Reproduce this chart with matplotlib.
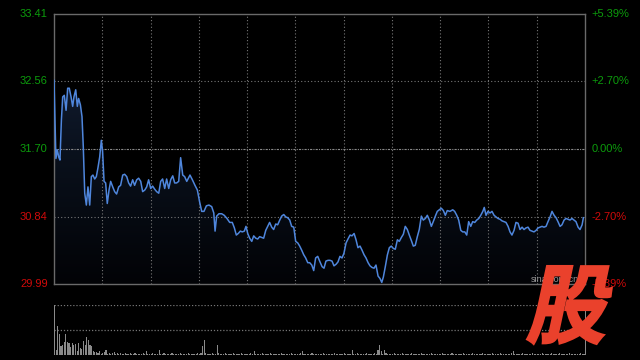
import matplotlib
matplotlib.use("Agg")
import matplotlib.pyplot as plt
import numpy as np
from matplotlib.colors import LinearSegmentedColormap
from matplotlib.textpath import TextPath
from matplotlib.patches import PathPatch
from matplotlib.font_manager import FontProperties
from matplotlib.transforms import Affine2D, IdentityTransform

plt.rcParams['font.family'] = ['Liberation Sans', 'DejaVu Sans']

# 分时数据（分钟, 价格）
minutes = [0, 1.2, 2.1, 2.9, 3.7, 4.6, 5.4, 6.4, 7.5, 8.5, 9.5, 10.6, 11.6, 12.4, 13.5, 14.5, 15.3, 16.4,
           17.4, 18.2, 19.1, 20.1, 21.1, 22.2, 23.2, 24.2, 25.3, 26.3, 27.3, 28.4, 29.4, 30.2, 31.1, 32.1,
           33.1, 34.2, 35.2, 36.5, 37.7, 38.9, 40.2, 41.4, 42.7, 43.9, 45.2, 46.4, 47.6, 48.9, 50.1, 51.4,
           52.6, 53.9, 55.1, 56.4, 57.6, 58.8, 60.1, 61.3, 62.6, 63.8, 65.1, 66.3, 67.5, 68.8, 70.0, 71.3,
           72.5, 73.8, 75.0, 76.2, 77.5, 78.7, 80.0, 81.2, 82.5,
           84.5, 86.0, 87.6, 89.1, 90.5, 91.8, 93.2, 94.7, 96.3, 98.0, 99.3, 100.1, 101.1, 102.5, 104.2,
           105.8, 107.5, 109.2, 110.8, 112.1, 113.3, 114.5, 115.8, 117.0, 118.3, 119.3, 120.4, 121.6,
           122.9, 124.1, 125.4, 126.6, 127.8, 129.1, 130.3, 131.6, 132.8, 134.0, 135.3, 136.5, 137.8,
           139.0, 140.3, 141.5, 142.8, 144.0, 145.2, 146.5, 147.7, 149.0, 150.2, 151.5, 152.7, 153.9,
           155.2, 156.4, 157.7, 158.9, 160.2, 161.4, 162.6, 163.9, 165.1,
           166.6, 167.8, 169.0, 170.3, 171.5, 172.8, 174.0, 175.3, 176.5, 177.7, 179.0, 180.2, 181.5,
           182.7, 184.0, 185.2, 186.5, 187.7, 188.9, 190.2, 191.4, 192.7, 193.9, 195.2, 196.4, 197.6,
           198.9, 200.1, 201.4, 202.6, 203.7, 204.7, 205.9, 207.2, 208.4, 209.6, 210.9, 212.1, 213.4,
           214.6, 215.9, 217.1, 218.3, 219.6, 220.8, 222.1, 223.3, 224.5, 225.8, 227.0, 228.3, 229.5,
           230.8, 232.0, 233.3, 234.5, 235.7, 237.0, 238.2, 239.5, 240.7, 242.0, 243.2, 244.4,
           246.1, 247.8, 249.0, 250.3, 251.5, 252.8, 254.0, 255.3, 256.5, 257.7, 259.0, 260.2, 261.5,
           262.7, 264.0, 265.2, 266.5, 267.4, 268.5, 269.7, 271.0, 272.2, 273.5, 274.7, 275.9, 277.2,
           278.4, 279.7, 280.9, 282.2, 283.4, 284.6, 285.9, 287.1, 288.4, 289.6, 290.9, 292.1, 293.3,
           294.6, 295.8, 297.1, 298.3, 299.6, 300.8, 302.0, 303.3, 304.5, 305.8, 307.0, 308.3, 309.5,
           310.8, 312.0, 313.2, 314.5, 315.7, 317.0, 318.2, 319.5, 320.7, 321.9, 323.2, 324.4, 325.7,
           326.9, 328.2, 329.0]
price = [32.57, 31.58, 31.69, 31.60, 31.56, 32.07, 32.36, 32.38, 32.19, 32.47, 32.47, 32.36, 32.24, 32.36,
         32.45, 32.24, 32.34, 32.26, 32.11, 31.73, 31.14, 30.99, 31.22, 30.99, 31.35, 31.37, 31.32, 31.35,
         31.46, 31.60, 31.81, 31.67, 31.29, 31.27, 31.01, 31.18, 31.29, 31.22, 31.16, 31.13, 31.22, 31.24,
         31.37, 31.38, 31.35, 31.27, 31.23, 31.31, 31.24, 31.31, 31.33, 31.29, 31.16, 31.18, 31.22, 31.31,
         31.20, 31.23, 31.19, 31.16, 31.14, 31.29, 31.32, 31.20, 31.32, 31.20, 31.31, 31.36, 31.27, 31.27,
         31.29, 31.59, 31.37, 31.35, 31.29,
         31.37, 31.31, 31.24, 31.18, 31.03, 30.91, 30.91, 30.98, 30.99, 30.97, 30.89, 30.66, 30.85, 30.88,
         30.88, 30.86, 30.82, 30.77, 30.77, 30.70, 30.61, 30.63, 30.66, 30.65, 30.66, 30.72, 30.63, 30.57,
         30.53, 30.60, 30.57, 30.56, 30.59, 30.58, 30.57, 30.67, 30.72, 30.77, 30.71, 30.68, 30.75, 30.74,
         30.80, 30.85, 30.87, 30.84, 30.83, 30.80, 30.72, 30.71, 30.53, 30.51, 30.47, 30.42, 30.36, 30.32,
         30.26, 30.26, 30.23, 30.16, 30.32, 30.34, 30.28,
         30.21, 30.19, 30.28, 30.29, 30.29, 30.28, 30.22, 30.24, 30.27, 30.34, 30.32, 30.38, 30.51, 30.56,
         30.61, 30.60, 30.63, 30.55, 30.45, 30.47, 30.42, 30.36, 30.32, 30.26, 30.22, 30.20, 30.19, 30.23,
         30.09, 30.06, 30.01, 30.08, 30.21, 30.36, 30.45, 30.47, 30.44, 30.43, 30.55, 30.53, 30.58, 30.62,
         30.72, 30.68, 30.61, 30.54, 30.47, 30.48, 30.59, 30.68, 30.85, 30.80, 30.82, 30.86, 30.80, 30.72,
         30.78, 30.85, 30.91, 30.93, 30.95, 30.92, 30.86, 30.92,
         30.91, 30.93, 30.91, 30.86, 30.80, 30.67, 30.65, 30.65, 30.61, 30.78, 30.72, 30.78, 30.77, 30.80,
         30.82, 30.86, 30.91, 30.96, 30.86, 30.91, 30.89, 30.91, 30.86, 30.84, 30.82, 30.81, 30.79, 30.78,
         30.77, 30.72, 30.65, 30.61, 30.67, 30.77, 30.76, 30.68, 30.71, 30.68, 30.70, 30.71, 30.67, 30.66,
         30.65, 30.67, 30.70, 30.71, 30.72, 30.71, 30.72, 30.78, 30.84, 30.91, 30.86, 30.83, 30.78, 30.72,
         30.74, 30.80, 30.82, 30.81, 30.80, 30.82, 30.80, 30.78, 30.71, 30.68, 30.74, 30.83]

# 每分钟成交量（相对值）
volume = [100, 10, 58, 42, 18, 20, 26, 42, 26, 24, 16, 24, 20, 22, 8, 24, 14, 12, 28, 20, 36, 30, 20, 18, 8, 6, 6, 4, 8, 3,
          4, 6, 10, 3, 4, 3, 4, 6, 3, 4, 3, 4, 2, 3, 4, 3, 2, 4, 3, 3, 4, 3, 2, 3, 3, 4, 2, 8, 3, 3,
          3, 4, 2, 3, 3, 10, 2, 3, 4, 3, 2, 3, 3, 4, 2, 3, 3, 2, 4, 3, 3, 2, 3, 4, 3, 2, 3, 3, 2, 4,
          3, 4, 18, 30, 4, 3, 3, 2, 4, 3, 3, 20, 4, 3, 2, 3, 4, 3, 3, 2, 3, 4, 2, 3, 3, 2, 4, 3, 3, 2,
          3, 2, 4, 3, 8, 3, 2, 3, 3, 4, 2, 3, 3, 2, 4, 3, 2, 3, 3, 2, 3, 4, 2, 3, 3, 2, 3, 4, 2, 3,
          3, 2, 3, 4, 8, 3, 2, 3, 3, 2, 4, 3, 2, 3, 3, 2, 3, 4, 2, 3, 3, 2, 3, 3, 4, 2, 3, 3, 2, 3,
          4, 3, 2, 3, 3, 10, 2, 3, 4, 3, 2, 3, 3, 2, 4, 3, 3, 2, 3, 4, 3, 10, 20, 8, 3, 10, 4, 3, 3, 2,
          3, 4, 2, 3, 3, 2, 4, 3, 3, 2, 3, 3, 4, 2, 3, 3, 2, 3, 4, 3, 2, 3, 3, 2, 4, 3, 2, 3, 3, 2,
          3, 4, 2, 3, 3, 2, 3, 4, 2, 3, 3, 2, 3, 3, 4, 2, 3, 3, 2, 3, 4, 3, 2, 3, 3, 2, 4, 3, 3, 2,
          3, 2, 4, 3, 3, 2, 3, 4, 2, 3, 3, 2, 3, 3, 4, 8, 3, 2, 3, 3, 2, 4, 3, 3, 2, 3, 3, 4, 2, 3,
          3, 2, 3, 4, 3, 2, 3, 3, 2, 4, 3, 3, 2, 3, 4, 3, 2, 3, 3, 2, 4, 3, 3, 2, 3, 3, 2, 4, 3, 3, 90]

prev_close = 31.70
left_labels = ['33.41', '32.56', '31.70', '30.84', '29.99']
right_labels = ['+5.39%', '+2.70%', '0.00%', '-2.70%', '-5.39%']
label_levels = [33.41, 32.56, 31.70, 30.84, 29.99]

W, H = 640, 360
fig = plt.figure(figsize=(6.4, 3.6), dpi=100, facecolor='black')
ax = fig.add_axes([54 / W, (H - 284) / H, 531 / W, 270 / H], facecolor='black')
axv = fig.add_axes([54 / W, (H - 355) / H, 531 / W, 50 / H], facecolor='black')

green = '#0c9c0c'
red = '#d00a0a'
gridc = '#777777'

# 价格面板
ax.set_xlim(0, 330)
ax.set_ylim(29.99, 33.41)
for v in range(30, 330, 30):
    ax.axvline(v, color=gridc, lw=0.8, ls=(0, (1, 2)), zorder=1)
for lv in [32.56, 30.84]:
    ax.axhline(lv, color=gridc, lw=0.8, ls=(0, (1, 2)), zorder=1)
ax.axhline(prev_close, color='#8a8a8a', lw=0.8, ls=(0, (2, 1, 1, 1)), zorder=1)

poly = ax.fill_between(minutes, price, 29.99, color='none', lw=0)
cmap = LinearSegmentedColormap.from_list('g', ['#020306', '#0a111d', '#17253f'])
grad = np.linspace(0, 1, 256).reshape(-1, 1)
img = ax.imshow(grad, extent=[0, 330, 29.99, 33.41], aspect='auto', cmap=cmap, origin='lower', zorder=0.5)
img.set_clip_path(poly.get_paths()[0], transform=ax.transData)

ax.plot(minutes, price, color='#4f86dc', lw=1.1, zorder=3)

ax.set_xticks([])
ax.set_yticks([])
for s in ax.spines.values():
    s.set_color('#6a6a6a')
    s.set_linewidth(1.0)

for lab, rl, lv in zip(left_labels, right_labels, label_levels):
    c = green if lv >= prev_close else red
    ax.text(-4, lv, lab, color=c, fontsize=8, ha='right', va='center', transform=ax.transData, clip_on=False)
    ax.text(334, lv, rl, color=c, fontsize=8, ha='left', va='center', transform=ax.transData, clip_on=False)

# 成交量面板
axv.set_xlim(0, 330)
axv.set_ylim(0, 100)
bars = axv.bar(np.arange(len(volume)), volume, width=0.7, color='#8a8a8a', lw=0, zorder=2, align='edge')
for b in bars:
    b.set_clip_on(False)
for lv in [100, 50, 1]:
    axv.axhline(lv, color=gridc, lw=0.9, ls=(0, (1, 1.5)), zorder=1)
axv.set_xticks([])
axv.set_yticks([])
for s in axv.spines.values():
    s.set_visible(False)

# 水印
fig.text(531 / W, (H - 279) / H, 'sina.com.cn', color='#999999', fontsize=6.5, ha='left', va='center')

# 右下角“股”标志
tp = TextPath((0, 0), '股', size=1, prop=FontProperties(family='Noto Sans CJK SC', weight='black'))
ext = tp.get_extents()
tr = (Affine2D().translate(-ext.x0, -ext.y0)
      .scale(76 / ext.width, 78 / ext.height)
      .skew_deg(12, 0)
      .translate(526, H - 344))
logo = PathPatch(tr.transform_path(tp), facecolor='#ea412c', edgecolor='#ea412c', lw=1.5,
                 transform=IdentityTransform(), zorder=10)
fig.patches.append(logo)

fig.savefig('out.png', dpi=100, facecolor='black')
